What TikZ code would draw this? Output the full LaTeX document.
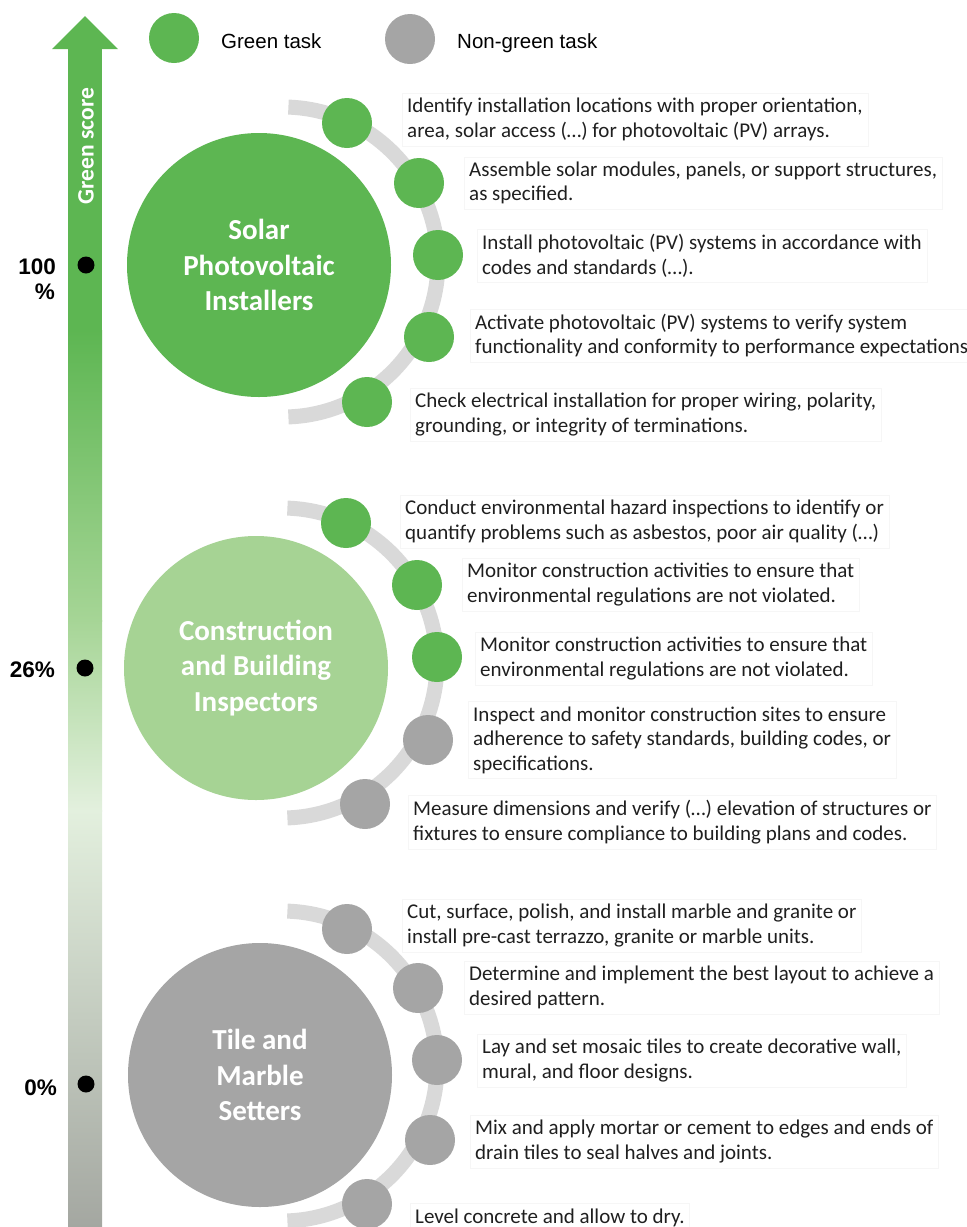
\documentclass[tikz,border=0pt]{standalone}
\usepackage{fontspec}
\setmainfont{Carlito}
\newfontfamily\arialfont{Liberation Sans}
\definecolor{taskgreen}{RGB}{93,182,82}
\definecolor{paleA}{RGB}{166,213,150}
\definecolor{paleB}{RGB}{227,240,222}
\definecolor{shaftgrey}{RGB}{164,167,161}
\definecolor{midgreen}{RGB}{166,211,148}
\definecolor{taskgrey}{RGB}{165,165,165}
\definecolor{arcgrey}{RGB}{217,217,217}
\definecolor{boxline}{RGB}{246,246,246}
\tikzset{
  bigc/.style={circle, minimum size=264pt, inner sep=0pt, text=white, align=center,
    font=\fontsize{29}{35.5}\selectfont\bfseries},
  sc/.style={circle, minimum size=50pt, inner sep=0pt},
  gtask/.style={sc, fill=taskgreen},
  ntask/.style={sc, fill=taskgrey},
  ring/.style={draw=arcgrey, line width=15pt},
  task/.style={anchor=west, align=left, draw=boxline, inner xsep=5pt, inner ysep=5pt,
    text=black!88, font=\fontsize{21}{24.5}\selectfont},
  dot/.style={circle, fill=black, minimum size=17pt, inner sep=0pt},
  pct/.style={anchor=base east, inner sep=0pt, font=\arialfont\fontsize{22.5}{26}\selectfont\bfseries},
  legend/.style={anchor=base west, inner sep=0pt, font=\arialfont\fontsize{20.5}{24}\selectfont}
}
\begin{document}
\begin{tikzpicture}[x=1pt,y=1pt]
\useasboundingbox (0,0) rectangle (967,-1227);

% green score axis: shaft fading from green to grey, arrow head on top
\fill[taskgreen] (68,-48) rectangle (102,-331);
\shade[top color=taskgreen, bottom color=paleA] (68,-330) rectangle (102,-621);
\shade[top color=paleA, bottom color=paleB] (68,-620) rectangle (102,-811);
\shade[top color=paleB, bottom color=shaftgrey] (68,-810) rectangle (102,-1227);
\fill[taskgreen] (52,-49) -- (85,-16) -- (118,-49) -- cycle;
\node[rotate=90, text=white, inner sep=0pt, font=\fontsize{23.5}{26}\selectfont\bfseries] (gs) at (86,-146) {Green score};

% score markers
\node[dot] (d100) at (86,-265) {};
\node[dot] (d26) at (85,-668) {};
\node[dot] (d0) at (86,-1084) {};
\node[pct] (p100) at (56,-274) {100};
\node[pct] (p100b) at (55,-299) {\%};
\node[pct] (p26) at (55,-677) {26\%};
\node[pct] (p0) at (57,-1095) {0\%};

% legend
\node[gtask] (lg) at (174,-38) {};
\node[legend] (lgt) at (221,-48) {Green task};
\node[ntask] (ln) at (410,-39) {};
\node[legend] (lnt) at (457,-48) {Non-green task};

% ---------- Solar Photovoltaic Installers ----------
\draw[ring] (283,-262) ++(88:155) arc[start angle=88, end angle=-88, radius=155];
\node[bigc, fill=taskgreen] (solar) at (259,-265) {Solar\\Photovoltaic\\Installers};
\node[gtask] (s1) at (347,-123) {};
\node[gtask] (s2) at (419,-183) {};
\node[gtask] (s3) at (438,-255) {};
\node[gtask] (s4) at (429,-337) {};
\node[gtask] (s5) at (367,-402) {};
\node[task] (t s1) at (402,-119.5) {Identify installation locations with proper orientation,\\area, solar access (…) for photovoltaic (PV) arrays.};
\node[task] (t s2) at (464,-183) {Assemble solar modules, panels, or support structures,\\as specified.};
\node[task] (t s3) at (477,-256) {Install photovoltaic (PV) systems in accordance with\\codes and standards (…).};
\node[task] (t s4) at (470,-335.5) {Activate photovoltaic (PV) systems to verify system\\functionality and conformity to performance expectations};
\node[task] (t s5) at (410,-414.5) {Check electrical installation for proper wiring, polarity,\\grounding, or integrity of terminations.};

% ---------- Construction and Building Inspectors ----------
\draw[ring] (282,-663) ++(88:155) arc[start angle=88, end angle=-88, radius=155];
\node[bigc, fill=midgreen] (cbi) at (256,-668) {Construction\\and Building\\Inspectors};
\node[gtask] (c1) at (346,-523) {};
\node[gtask] (c2) at (417,-585) {};
\node[gtask] (c3) at (437,-657) {};
\node[ntask] (c4) at (428,-740) {};
\node[ntask] (c5) at (365,-804) {};
\node[task] (t c1) at (400,-521.5) {Conduct environmental hazard inspections to identify or\\quantify problems such as asbestos, poor air quality (…)};
\node[task] (t c2) at (462,-584.5) {Monitor construction activities to ensure that\\environmental regulations are not violated.};
\node[task] (t c3) at (475,-658.5) {Monitor construction activities to ensure that\\environmental regulations are not violated.};
\node[task] (t c4) at (468,-740) {Inspect and monitor construction sites to ensure\\adherence to safety standards, building codes, or\\specifications.};
\node[task] (t c5) at (408,-822) {Measure dimensions and verify (…) elevation of structures or\\fixtures to ensure compliance to building plans and codes.};

% ---------- Tile and Marble Setters ----------
\draw[ring] (282,-1066) ++(88:155) arc[start angle=88, end angle=-88, radius=155];
\node[bigc, fill=taskgrey] (tms) at (260,-1075) {Tile and\\Marble\\Setters};
\node[ntask] (m1) at (347,-929) {};
\node[ntask] (m2) at (418,-988) {};
\node[ntask] (m3) at (437,-1060) {};
\node[ntask] (m4) at (430,-1140) {};
\node[ntask] (m5) at (367,-1204) {};
\node[task] (t m1) at (402,-925.5) {Cut, surface, polish, and install marble and granite or\\install pre-cast terrazzo, granite or marble units.};
\node[task] (t m2) at (464,-987.5) {Determine and implement the best layout to achieve a\\desired pattern.};
\node[task] (t m3) at (477,-1060.5) {Lay and set mosaic tiles to create decorative wall,\\mural, and floor designs.};
\node[task] (t m4) at (470,-1141.5) {Mix and apply mortar or cement to edges and ends of\\drain tiles to seal halves and joints.};
\node[task] (t m5) at (410,-1217.5) {Level concrete and allow to dry.};
\end{tikzpicture}
\end{document}
